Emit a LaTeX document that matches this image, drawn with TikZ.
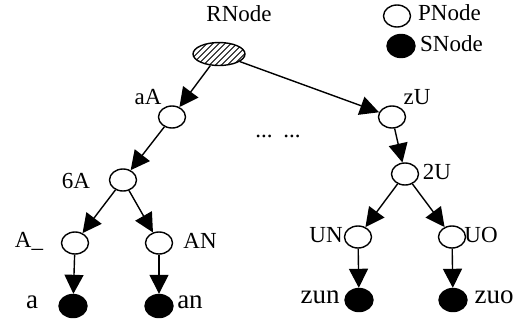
\documentclass[tikz,border=0pt]{standalone}
\usepackage{fontspec}
\setmainfont{Liberation Serif}
\usetikzlibrary{arrows.meta,shapes.geometric}
\tikzset{
  pnode/.style={ellipse,draw,line width=1.4pt,fill=white,inner sep=0pt,minimum width=27pt,minimum height=22pt},
  snode/.style={ellipse,draw,line width=1.4pt,fill=black,inner sep=0pt,minimum width=28pt,minimum height=23pt},
  rootnode/.style={ellipse,draw,line width=1.4pt,inner sep=0pt,minimum width=52pt,minimum height=23pt,
    path picture={\foreach \s in {-54,-48,...,30}
      \draw[line width=1pt] ([xshift=\s pt,yshift=-2pt]path picture bounding box.south) -- ++(28pt,28pt);}},
  lbl/.style={inner sep=0pt,font=\fontsize{23}{25}\selectfont},
  leaflbl/.style={inner sep=0pt,font=\fontsize{27}{29}\selectfont},
  link/.style={line width=1.4pt,-{Triangle[length=19pt,width=19pt]}}
}
\begin{document}
\begin{tikzpicture}[x=1pt,y=-1pt]
\useasboundingbox (0,0) rectangle (518,324);
% root and legend
\node[lbl] (rlabel) at (239,14) {RNode};
\node[rootnode] (root) at (219,54) {};
\node[pnode] (legp) at (397,16) {};
\node[lbl,anchor=west] (legptext) at (418,13) {PNode};
\node[snode] (legs) at (401,46) {};
\node[lbl,anchor=west] (legstext) at (420,44) {SNode};
% internal nodes
\node[pnode] (aA) at (172,117) {};
\node[lbl] (aAl) at (148,97) {aA};
\node[pnode] (zU) at (392,117) {};
\node[lbl] (zUl) at (417,97) {zU};
\node[lbl] (dots1) at (264,136) {...};
\node[lbl] (dots2) at (292,136) {...};
\node[pnode] (n6A) at (123,180) {};
\node[lbl] (n6Al) at (76,181) {6A};
\node[pnode] (n2U) at (405,174) {};
\node[lbl] (n2Ul) at (437,172) {2U};
\node[pnode] (A_) at (75,243) {};
\node[lbl] (A_l) at (29,241) {A\_};
\node[pnode] (AN) at (159,243) {};
\node[lbl] (ANl) at (200,241) {AN};
\node[pnode] (UN) at (358,237) {};
\node[lbl] (UNl) at (326,235) {UN};
\node[pnode] (UO) at (452,237) {};
\node[lbl] (UOl) at (481,235) {UO};
% leaves
\node[snode] (a) at (73,306) {};
\node[leaflbl] (al) at (32,302) {a};
\node[snode] (an) at (159,306) {};
\node[leaflbl] (anl) at (190,302) {an};
\node[snode] (zun) at (359,300) {};
\node[leaflbl] (zunl) at (320,297) {zun};
\node[snode] (zuo) at (453,300) {};
\node[leaflbl] (zuol) at (494,297) {zuo};
% connectors
\draw[link] (root) -- (aA);
\draw[link] (root) -- (zU);
\draw[link] (aA) -- (n6A);
\draw[link] (zU) -- (n2U);
\draw[link] (n6A) -- (A_);
\draw[link] (n6A) -- (AN);
\draw[link] (n2U) -- (UN);
\draw[link] (n2U) -- (UO);
\draw[link] (A_) -- (a);
\draw[link] (AN) -- (an);
\draw[link] (UN) -- (zun);
\draw[link] (UO) -- (zuo);
\end{tikzpicture}
\end{document}
